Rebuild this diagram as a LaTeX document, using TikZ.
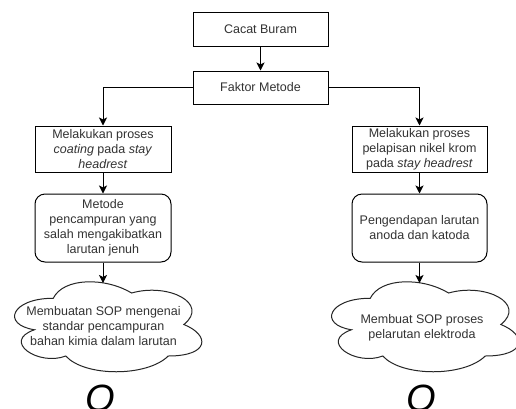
\documentclass[tikz,border=0pt]{standalone}
\usepackage{fontspec}
\setmainfont{Liberation Sans}
\usetikzlibrary{arrows.meta}

% draw.io-style cloud outline inside the box (x0,y0) of size w x h
\newcommand\drawcloud[4]{%
  \begin{scope}[shift={(#1,#2)},x=#3pt,y=-#4pt]
    \draw[cloudline] (0.25,0.25) .. controls (0.05,0.25) and (0,0.5) .. (0.16,0.55)
      .. controls (0,0.66) and (0.18,0.9) .. (0.31,0.8)
      .. controls (0.4,1) and (0.7,1) .. (0.8,0.8)
      .. controls (1,0.8) and (1,0.6) .. (0.875,0.5)
      .. controls (1,0.3) and (0.8,0.1) .. (0.625,0.2)
      .. controls (0.5,0.05) and (0.3,0.05) .. cycle;
  \end{scope}}

\begin{document}
\begin{tikzpicture}[x=1pt,y=-1pt,
  font=\fontsize{12.5}{15}\selectfont,
  every node/.style={text=black!80},
  box/.style={draw=black, line width=1pt, inner sep=0pt, align=center},
  roundbox/.style={box, rounded corners=10pt},
  cloudtext/.style={align=center, inner sep=0pt},
  cloudline/.style={draw=black!85, line width=1pt, fill=white},
  link/.style={draw=black, line width=1pt, -{Stealth[length=8pt,width=8pt,inset=2pt]}},
  bigo/.style={font=\fontsize{38}{40}\selectfont\itshape, text=black, inner sep=0pt, anchor=north}]

  \useasboundingbox (0,0) rectangle (516,408);
  \fill[white] (0,0) rectangle (516,408);
  \clip (0,0) rectangle (516,408);

  % top of the chart
  \node[box, minimum width=135pt, minimum height=34pt] (cb) at (260.5,29.5) {Cacat Buram};
  \node[box, minimum width=135pt, minimum height=33pt] (fm) at (260.5,87.5) {Faktor Metode};

  % left branch
  \node[box, minimum width=136pt, minimum height=46pt] (l1) at (103,149)
    {Melakukan proses\\\textit{coating} pada \textit{stay}\\\textit{headrest}};
  \node[roundbox, minimum width=136pt, minimum height=68pt] (l2) at (103,228)
    {Metode\\pencampuran yang\\salah mengakibatkan\\larutan jenuh};
  \drawcloud{1}{272}{209}{105}
  \node[cloudtext] (l3) at (103.5,326.5) {Membuatan SOP mengenai\\standar pencampuran\\bahan kimia dalam larutan};
  \coordinate (l3top) at (103,283);
  \node[bigo] (lo) at (100,385) {O};

  % right branch
  \node[box, minimum width=135pt, minimum height=46pt] (r1) at (419.5,149)
    {Melakukan proses\\pelapisan nikel krom\\pada \textit{stay headrest}};
  \node[roundbox, minimum width=135pt, minimum height=68pt] (r2) at (419.5,228)
    {Pengendapan larutan\\anoda dan katoda};
  \drawcloud{318}{272}{209}{105}
  \node[cloudtext] (r3) at (422,327.5) {Membuat SOP proses\\pelarutan elektroda};
  \coordinate (r3top) at (419.5,283);
  \node[bigo] (ro) at (421,385) {O};

  % connectors
  \draw[link] (cb) -- (fm);
  \draw[link] (fm.west) -| (l1.north);
  \draw[link] (fm.east) -| (r1.north);
  \draw[link] (l1) -- (l2);
  \draw[link] (r1) -- (r2);
  \draw[link] (l2.south) -- (l3top);
  \draw[link] (r2.south) -- (r3top);
\end{tikzpicture}
\end{document}
